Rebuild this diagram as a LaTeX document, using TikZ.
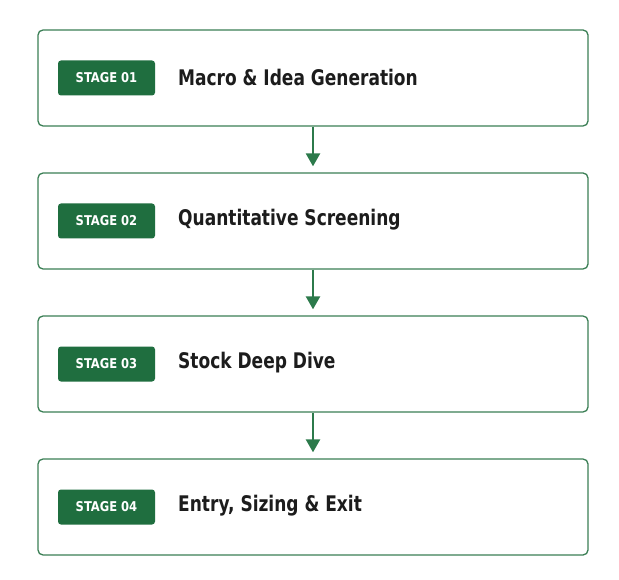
\documentclass[tikz,border=0pt]{standalone}
\usepackage{fontspec}
\setmainfont{DejaVu Sans Condensed}
\newfontfamily\titlefont[FakeStretch=0.88]{DejaVu Sans Condensed}
\newfontfamily\badgefont[FakeStretch=0.95]{DejaVu Sans Condensed}
\usetikzlibrary{arrows.meta}
\definecolor{boxgreen}{HTML}{3B7F55}
\definecolor{badgegreen}{HTML}{1F6E3F}
\definecolor{arrowgreen}{HTML}{2C7A4B}
\definecolor{titlecol}{HTML}{1C1C1C}
\tikzset{
  stagebox/.style={draw=boxgreen, line width=1.3pt, rounded corners=5pt, fill=white, minimum width=550pt, minimum height=96pt, inner sep=0pt},
  badge/.style={fill=badgegreen, rounded corners=3pt, minimum width=97pt, minimum height=35pt, inner sep=0pt, text=white, font=\badgefont\bfseries\fontsize{13.5}{15}\selectfont},
  title/.style={anchor=west, text=titlecol, inner sep=0pt, font=\titlefont\bfseries\fontsize{21.5}{24}\selectfont},
  flow/.style={draw=arrowgreen, line width=2.4pt, shorten >=6pt, -{Triangle[length=13pt,width=14pt]}}
}
\begin{document}
\begin{tikzpicture}[x=1pt,y=-1pt]
\useasboundingbox (0,0) rectangle (619,580);
\foreach \i/\y/\t in {1/78/{Macro \& Idea Generation},2/221/{Quantitative Screening},3/364/{Stock Deep Dive},4/507/{Entry, Sizing \& Exit}}{
  \node[stagebox] (s\i) at (313,\y) {};
  \node[badge] (b\i) at (106.5,\y) {STAGE 0\i};
  \node[title] (t\i) at (178,\y-1) {\t};
}
\draw[flow] (s1.south) -- (s2.north);
\draw[flow] (s2.south) -- (s3.north);
\draw[flow] (s3.south) -- (s4.north);
\end{tikzpicture}
\end{document}
